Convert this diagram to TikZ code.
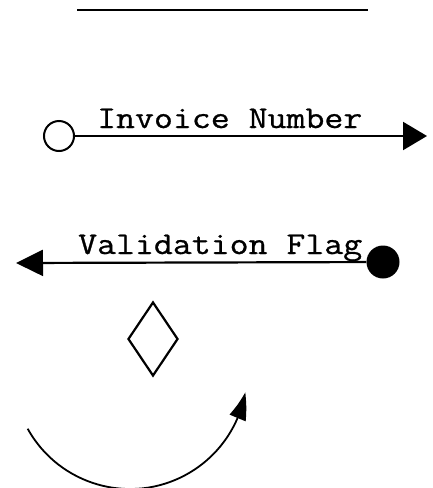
\documentclass[tikz,border=0pt]{standalone}
\usepackage{fontspec}
\usetikzlibrary{arrows.meta,shapes.geometric,bending,calc}
% serif typewriter face, widened to a 19pt advance at 31.7pt
\newfontfamily\typewriter[FakeStretch=1.16,FakeBold=0.8]{Latin Modern Mono}
\begin{document}
\begin{tikzpicture}[x=1pt,y=1pt,
  flow/.style={line width=2.2pt},
  flowlabel/.style={font=\typewriter\fontsize{31.7pt}{34pt}\selectfont,
    inner sep=0pt, anchor=base west},
  opendot/.style={circle, draw, line width=2pt, minimum size=30pt, inner sep=0pt},
  fulldot/.style={circle, fill, minimum size=33pt, inner sep=0pt},
  decision/.style={diamond, draw, line width=2.2pt, aspect=0.68,
    minimum width=50pt, minimum height=74pt, inner sep=0pt}]
  \useasboundingbox (0,0) rectangle (432,-488);

  % heading rule
  \coordinate (ruleL) at (77,-10);
  \coordinate (ruleR) at (368,-10);
  \draw[line width=2.4pt] (ruleL) -- (ruleR);

  % data couple: open circle
  \node[opendot] (inv) at (59,-136) {};
  \coordinate (invEnd) at (427,-136);
  \draw[flow, -{Triangle[length=24pt,width=28pt]}] (inv) -- (invEnd);
  \node[flowlabel] (invText) at (97,-128) {Invoice Number};

  % control couple: filled circle
  \node[fulldot] (flag) at (383,-262) {};
  \coordinate (flagEnd) at (16,-263);
  \draw[flow, -{Triangle[length=27pt,width=26pt]}] (flag) -- (flagEnd);
  \node[flowlabel] (flagText) at (78,-254) {Validation Flag};

  % selection diamond
  \node[decision] (sel) at (153,-339) {};

  % iteration arc
  \coordinate (loopStart) at ($(130,-372)+(209:117)$);
  \draw[line width=1.8pt, -{Triangle[length=27pt,width=17pt,bend]}]
    (loopStart) arc[start angle=209, end angle=350, radius=117];
\end{tikzpicture}
\end{document}
